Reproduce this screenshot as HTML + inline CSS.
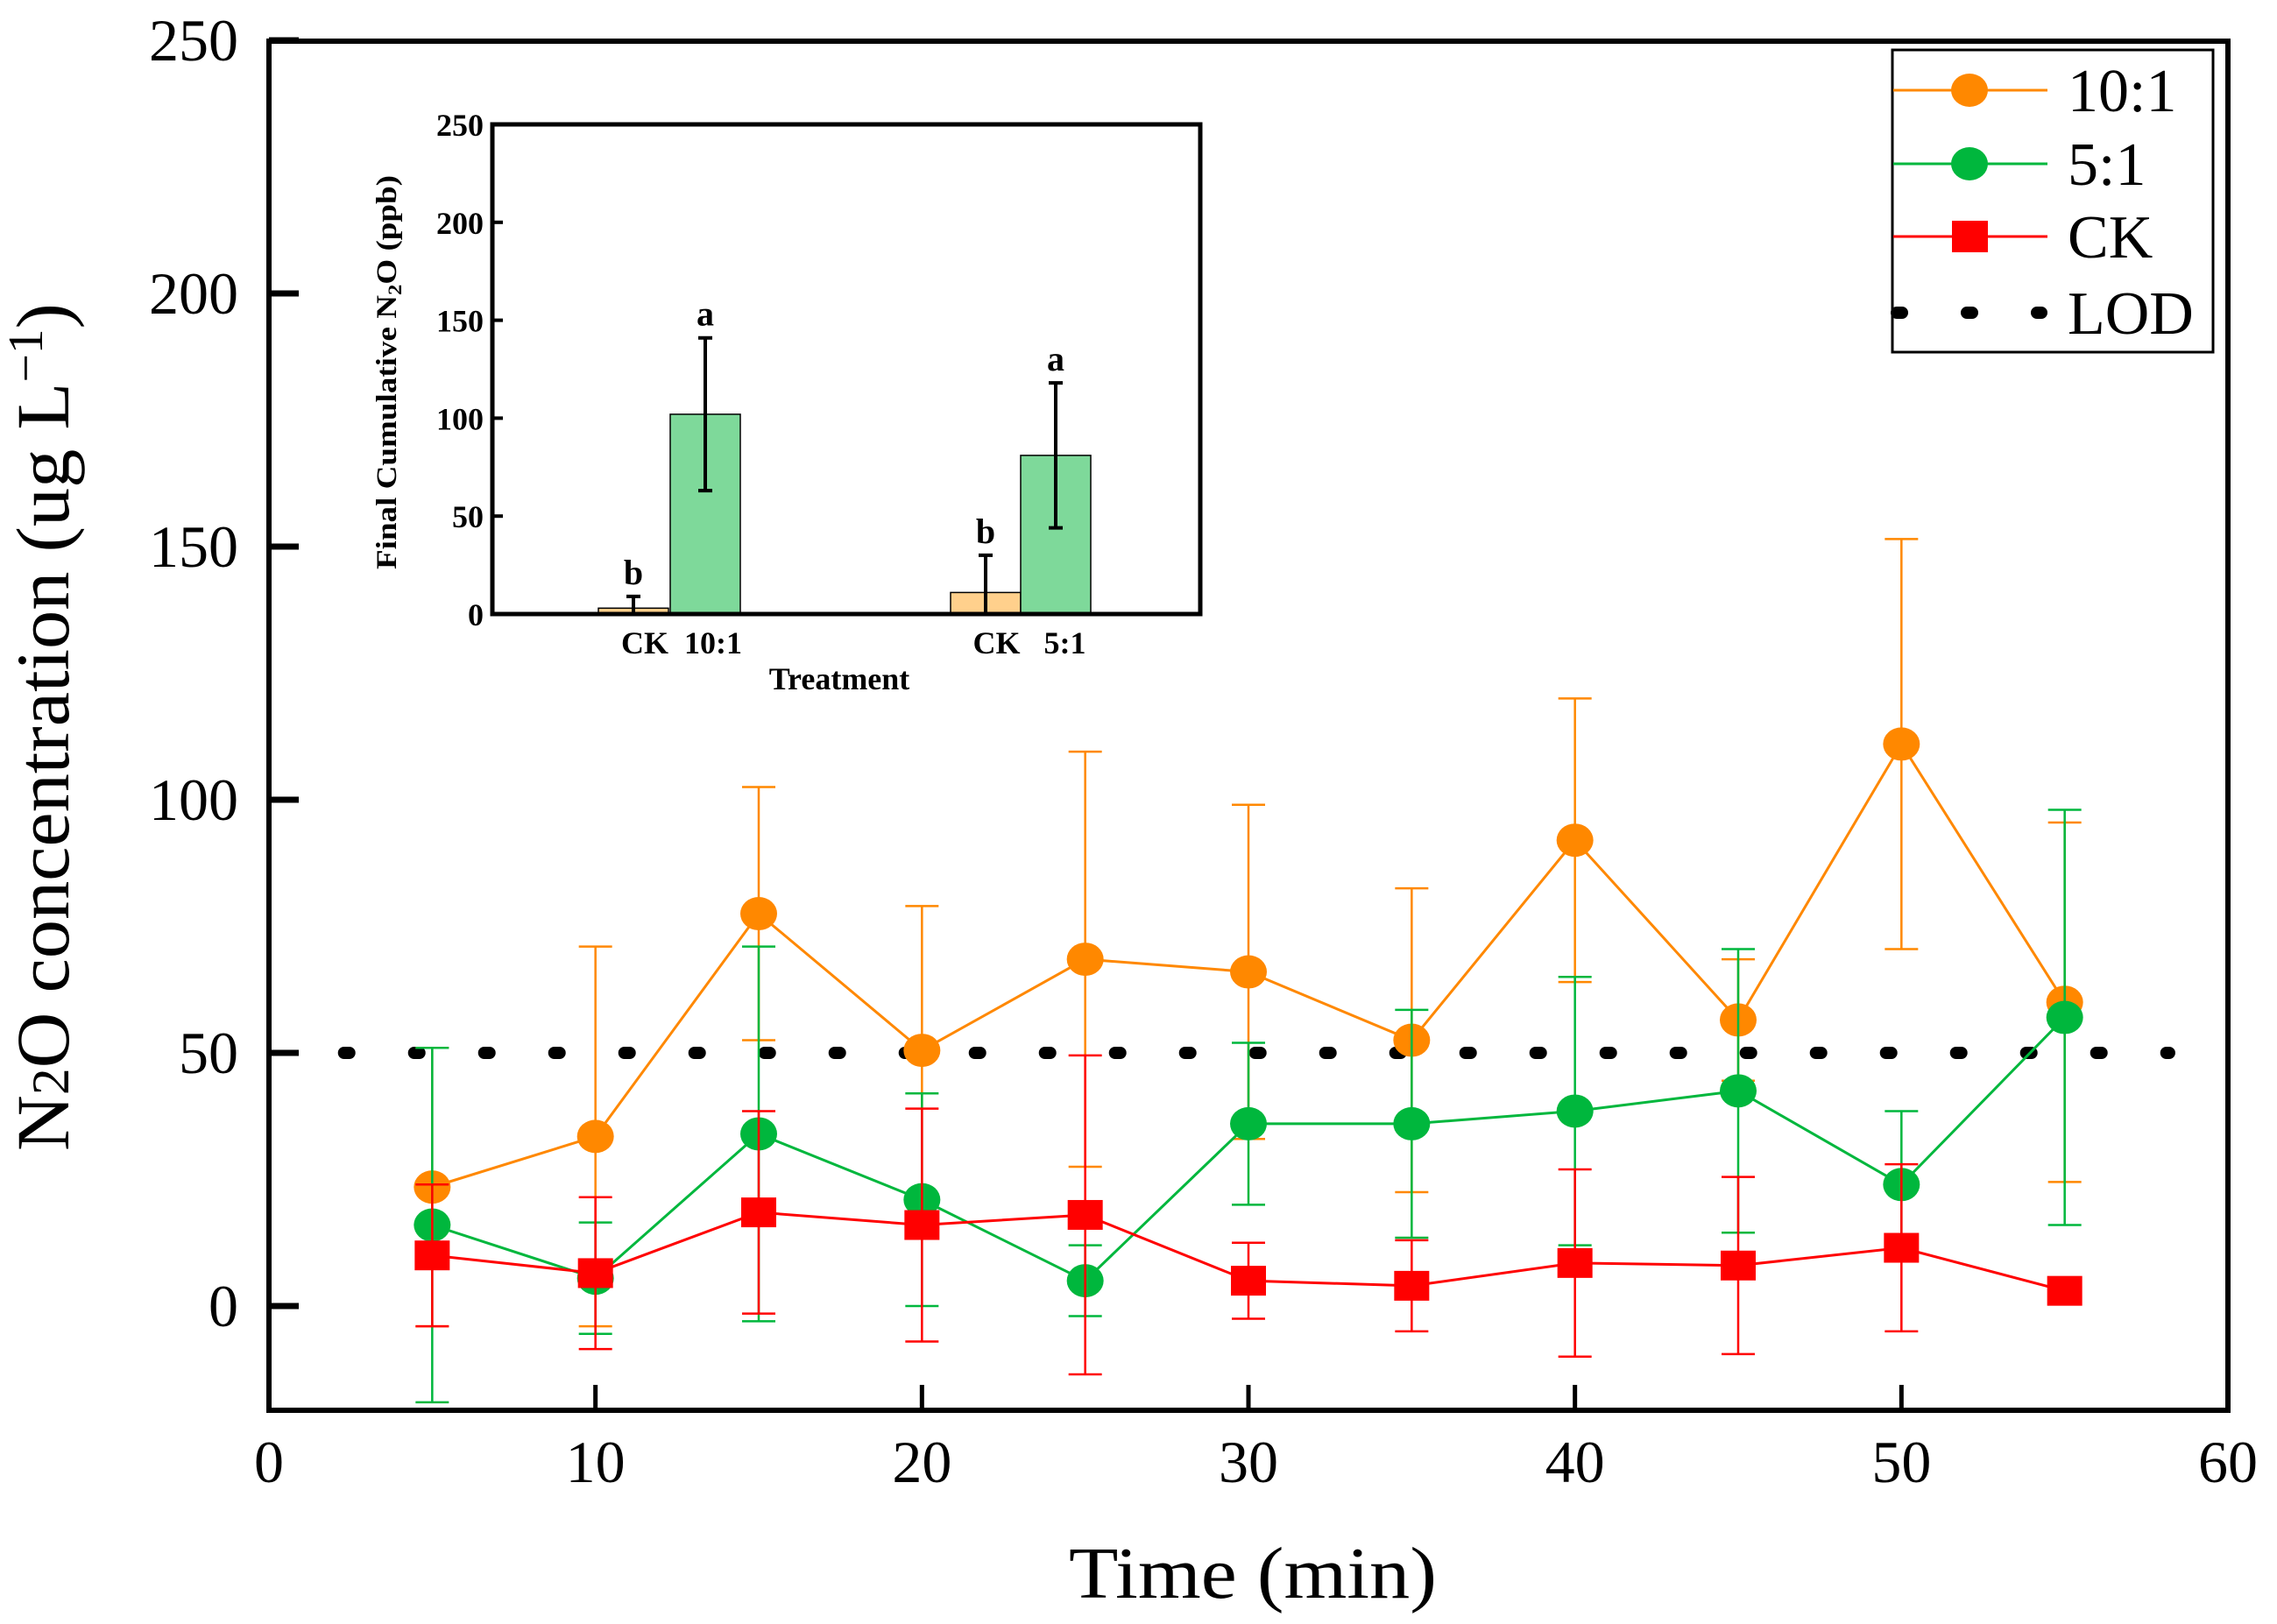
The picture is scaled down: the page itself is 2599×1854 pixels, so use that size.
<!DOCTYPE html>
<html><head><meta charset="utf-8"><style>
html,body{margin:0;padding:0;background:#fff}
svg{display:block}
text{font-family:"Liberation Serif",serif}
</style></head><body>
<svg id="chart" width="2599" height="1854" viewBox="0 0 2599 1854" xmlns="http://www.w3.org/2000/svg">
<g id="main"></g>
<g id="inset"></g>
<g id="legend"></g>
</svg>
<script>
const times = [5,10,15,20,25,30,35,40,45,50,55];
const ratio10 = [23.5,33.5,77.5,50.5,68.5,66,52.5,92,56.5,111,60];
const ratio10Err = [27.5,37.5,25,28.5,41,33,30,28,12,40.5,35.5];
const ratio5 = [16,5.5,34,21,5,36,36,38.5,42.5,24,57];
const ratio5Err = [35,11,37,21,7,16,22.5,26.5,28,14.5,41];
const ck = [10,6.5,18.5,16,18,5,4,8.5,8,11.5,3];
const ckErr = [14,15,20,23,31.5,7.5,9,18.5,17.5,16.5,0];
const lodValue = 50;
const xTicks = [0,10,20,30,40,50,60];
const yTicks = [0,50,100,150,200,250];
const insetCats = ["CK","10:1","CK","5:1"];
const insetVals = [3,102,11,81];
const insetErrs = [6,39,19,37];
const insetLetters = ["b","a","b","a"];
const insetTicks = [0,50,100,150,200,250];

const NS="http://www.w3.org/2000/svg";
function mk(parent,tag,attrs,txt){const e=document.createElementNS(NS,tag);for(const k in attrs)e.setAttribute(k,attrs[k]);if(txt!==undefined)e.textContent=txt;parent.appendChild(e);return e;}

const L=307,R=2543,T=47,B=1610,Y0=1491,PY=5.78;
const X=t=>L+(t-0)*(R-L)/60;
const Y=v=>Y0-v*PY;
const main=document.getElementById('main');
const clip=mk(main,'clipPath',{id:'pc'});mk(clip,'rect',{x:L,y:T,width:R-L,height:B-T});
const plot=mk(main,'g',{'clip-path':'url(#pc)'});

const lod=mk(plot,'line',{x1:X(2.3),x2:X(58.2),y1:Y(lodValue),y2:Y(lodValue),stroke:'#000','stroke-width':14,'stroke-linecap':'round','stroke-dasharray':'6 74'});



const series=[
 {name:'ratio-5-1',vals:ratio5,err:ratio5Err,color:'#00B73D',shape:'circle'},
 {name:'ratio-10-1',vals:ratio10,err:ratio10Err,color:'#FF8800',shape:'circle'},
 {name:'ck',vals:ck,err:ckErr,color:'#FF0000',shape:'square'}
];
const order=[series[1],series[0],series[2]];
order.forEach(s=>{
  const g=mk(plot,'g',{});
  
  
  s.vals.forEach((v,i)=>{
    const x=X(times[i]);
    if(s.err[i]>0){
      const eb=mk(g,'path',{d:`M${x},${Y(v+s.err[i])}V${Y(v-s.err[i])}M${x-19},${Y(v+s.err[i])}h38M${x-19},${Y(v-s.err[i])}h38`,stroke:s.color,'stroke-width':2.5,fill:'none'});
      
      
    }
  });
  const pts=s.vals.map((v,i)=>X(times[i])+','+Y(v)).join(' ');
  const pl=mk(g,'polyline',{points:pts,fill:'none',stroke:s.color,'stroke-width':3});
  
  
  s.g=g;
});
order.forEach(s=>{
  s.vals.forEach((v,i)=>{
    const x=X(times[i]),y=Y(v);let m;
    if(s.shape==='circle') m=mk(s.g,'ellipse',{cx:x,cy:y,rx:21,ry:19,fill:s.color});
    else m=mk(s.g,'rect',{x:x-20,y:y-17,width:40,height:34,fill:s.color});
    
    
  });
});

const fr=mk(main,'rect',{x:L,y:T,width:R-L,height:B-T,fill:'none',stroke:'#000','stroke-width':6});


yTicks.forEach(v=>{
  const tk=mk(main,'line',{x1:L,x2:L+34,y1:Y(v),y2:Y(v),stroke:'#000','stroke-width':7});
  
  
  const tl=mk(main,'text',{x:L-35,y:Y(v)+23,'text-anchor':'end','font-size':68},String(v));
  
  
});
xTicks.forEach(t=>{
  if(t>0&&t<60){const tk=mk(main,'line',{x1:X(t),x2:X(t),y1:B,y2:B-29,stroke:'#000','stroke-width':5});
  
  }
  const tl=mk(main,'text',{x:X(t),y:1692,'text-anchor':'middle','font-size':68},String(t));
  
  
});
const xt=mk(main,'text',{x:1430,y:1824,'text-anchor':'middle','font-size':84,textLength:420,lengthAdjust:'spacingAndGlyphs'},'Time (min)');


const yt=mk(main,'text',{x:0,y:0,'text-anchor':'middle','font-size':86,transform:'translate(78,830) rotate(-90)',textLength:968,lengthAdjust:'spacingAndGlyphs'});


yt.innerHTML='N<tspan font-size="60">2</tspan>O concentration (ug L<tspan font-size="56" dy="-30">−1</tspan><tspan dy="30">)</tspan>';

const inset=document.getElementById('inset');
const IL=562,IR=1370,IT=142,IB=701;
const IY=v=>IB-v*(IB-IT)/250;
const barX=[683,765,1085,1165],barW=80;
const barColors=['#FFD08C','#7ED99A','#FFD08C','#7ED99A'];
insetVals.forEach((v,i)=>{
  const b=mk(inset,'rect',{x:barX[i],y:IY(v),width:barW,height:IB-IY(v),fill:barColors[i],stroke:'#000','stroke-width':1.5});
  
  
  const cx=barX[i]+barW/2;
  const e=mk(inset,'path',{d:`M${cx},${IY(v+insetErrs[i])}V${IY(Math.max(0,v-insetErrs[i]))}M${cx-8},${IY(v+insetErrs[i])}h16`+(v-insetErrs[i]>0?`M${cx-8},${IY(v-insetErrs[i])}h16`:''),stroke:'#000','stroke-width':4,fill:'none'});
  
  
  const lt=mk(inset,'text',{x:cx,y:IY(v+insetErrs[i])-14,'text-anchor':'middle','font-size':40,'font-weight':'bold'},insetLetters[i]);
  
  
});
const ifr=mk(inset,'rect',{x:IL,y:IT,width:IR-IL,height:IB-IT,fill:'none',stroke:'#000','stroke-width':5});


insetTicks.forEach(v=>{
  const tk=mk(inset,'line',{x1:IL,x2:IL+12,y1:IY(v),y2:IY(v),stroke:'#000','stroke-width':4});
  
  
  const tl=mk(inset,'text',{x:IL-10,y:IY(v)+13,'text-anchor':'end','font-size':36,'font-weight':'bold',textLength:String(v).length*18,lengthAdjust:'spacingAndGlyphs'},String(v));
  
  
});
[[778,'CK\u00a0\u00a010:1'],[1175,'CK\u00a0\u00a0\u00a05:1']].forEach(([x,s])=>{
  const t=mk(inset,'text',{x:x,y:746,'text-anchor':'middle','font-size':36,'font-weight':'bold'},s);
  
  
});
const itt=mk(inset,'text',{x:958,y:787,'text-anchor':'middle','font-size':36,'font-weight':'bold'},'Treatment');


const iyt=mk(inset,'text',{x:0,y:0,'text-anchor':'middle','font-size':33,'font-weight':'bold',transform:'translate(452,425) rotate(-90)',textLength:450,lengthAdjust:'spacingAndGlyphs'});


iyt.innerHTML='Final Cumulative N<tspan font-size="22" dy="6">2</tspan><tspan dy="-6">O (ppb)</tspan>';

const lg=document.getElementById('legend');
const lb=mk(lg,'rect',{x:2160,y:57,width:366,height:345,fill:'#fff',stroke:'#000','stroke-width':3});


const entries=[['10:1','#FF8800','circle',103],['5:1','#00B73D','circle',187],['CK','#FF0000','square',270],['LOD','#000','dot',357]];
entries.forEach(([lab,c,sh,y])=>{
  const g=mk(lg,'g',{});
  
  
  if(sh==='dot'){
    mk(g,'line',{x1:2165,x2:2330,y1:y,y2:y,stroke:'#000','stroke-width':14,'stroke-linecap':'round','stroke-dasharray':'6 74'});
  } else {
    mk(g,'line',{x1:2161,x2:2337,y1:y,y2:y,stroke:c,'stroke-width':3});
    if(sh==='circle') mk(g,'ellipse',{cx:2248,cy:y,rx:21,ry:19,fill:c});
    else mk(g,'rect',{x:2228,y:y-18,width:41,height:36,fill:c});
  }
  mk(g,'text',{x:2360,y:y+24,'font-size':70},lab);
});
</script>
</body></html>
